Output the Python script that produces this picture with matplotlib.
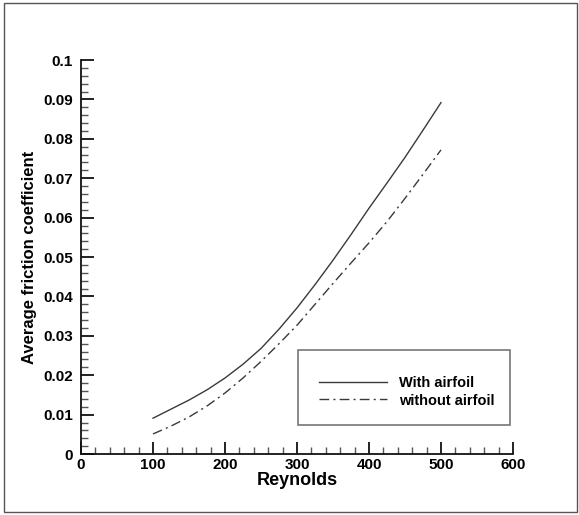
import matplotlib
matplotlib.use("Agg")
import matplotlib.pyplot as plt
from matplotlib.ticker import MultipleLocator, FuncFormatter
from matplotlib.patches import Rectangle

reynolds = [100, 125, 150, 175, 200, 225, 250, 275, 300, 325, 350, 375, 400, 425, 450, 475, 500]
with_airfoil = [0.0091, 0.0114, 0.0137, 0.0163, 0.0193, 0.0228, 0.0268, 0.0317, 0.0371, 0.0430,
                0.0492, 0.0557, 0.0624, 0.0688, 0.0753, 0.0822, 0.0892]
without_airfoil = [0.0051, 0.0071, 0.0094, 0.0122, 0.0155, 0.0193, 0.0235, 0.0280, 0.0327, 0.0380,
                   0.0433, 0.0485, 0.0536, 0.0590, 0.0649, 0.0710, 0.0772]
labels = ["With airfoil", "without airfoil"]

plt.rcParams['font.family'] = ['Liberation Sans', 'DejaVu Sans']

fig = plt.figure(figsize=(5.79, 5.15), dpi=100)
ax = fig.add_axes([0.140, 0.1184, 0.746, 0.765])

line_col = '#3a3a3a'
l1, = ax.plot(reynolds, with_airfoil, color=line_col, lw=1.0, label=labels[0])
l2, = ax.plot(reynolds, without_airfoil, color=line_col, lw=1.0, dashes=(7, 3, 1.5, 3), label=labels[1])

ax.set_xlim(0, 600)
ax.set_ylim(0, 0.1)
ax.xaxis.set_major_locator(MultipleLocator(100))
ax.xaxis.set_minor_locator(MultipleLocator(20))
ax.yaxis.set_major_locator(MultipleLocator(0.01))
ax.yaxis.set_minor_locator(MultipleLocator(0.002))
ax.yaxis.set_major_formatter(FuncFormatter(lambda v, p: '%g' % round(v, 4)))

for s in ['top', 'right']:
    ax.spines[s].set_visible(False)
for s in ['left', 'bottom']:
    ax.spines[s].set_linewidth(1.3)
    ax.spines[s].set_color('#111111')

ax.tick_params(which='major', direction='in', length=9, width=1.3, color='#111111',
               labelsize=11)
ax.tick_params(axis='y', which='major', pad=6)
ax.tick_params(axis='x', which='major', pad=3)
ax.tick_params(which='minor', direction='in', length=5, width=1.0, color='#555555')
for lab in ax.get_xticklabels() + ax.get_yticklabels():
    lab.set_fontweight('bold')

ax.set_xlabel('Reynolds', fontsize=13, fontweight='bold', labelpad=0)
ax.set_ylabel('Average friction coefficient', fontsize=12, fontweight='bold')
ax.yaxis.set_label_coords(-0.102, 0.5)

# legend box
ax.add_patch(Rectangle((0.502, 0.0736), 0.491, 0.19, transform=ax.transAxes,
                       fill=False, edgecolor='#777777', lw=1.2, zorder=3))
leg = ax.legend(handles=[l1, l2], loc='center left', bbox_to_anchor=(0.52, 0.158),
                frameon=False, handlelength=4.7, handletextpad=0.8,
                labelspacing=0.25, prop={'weight': 'bold', 'size': 10.5})

# figure border
fig.add_artist(Rectangle((4 / 579, 3 / 515), 573 / 579, 509 / 515, transform=fig.transFigure,
                         fill=False, edgecolor='#555555', lw=1.0))

fig.savefig('out.png', dpi=100)
